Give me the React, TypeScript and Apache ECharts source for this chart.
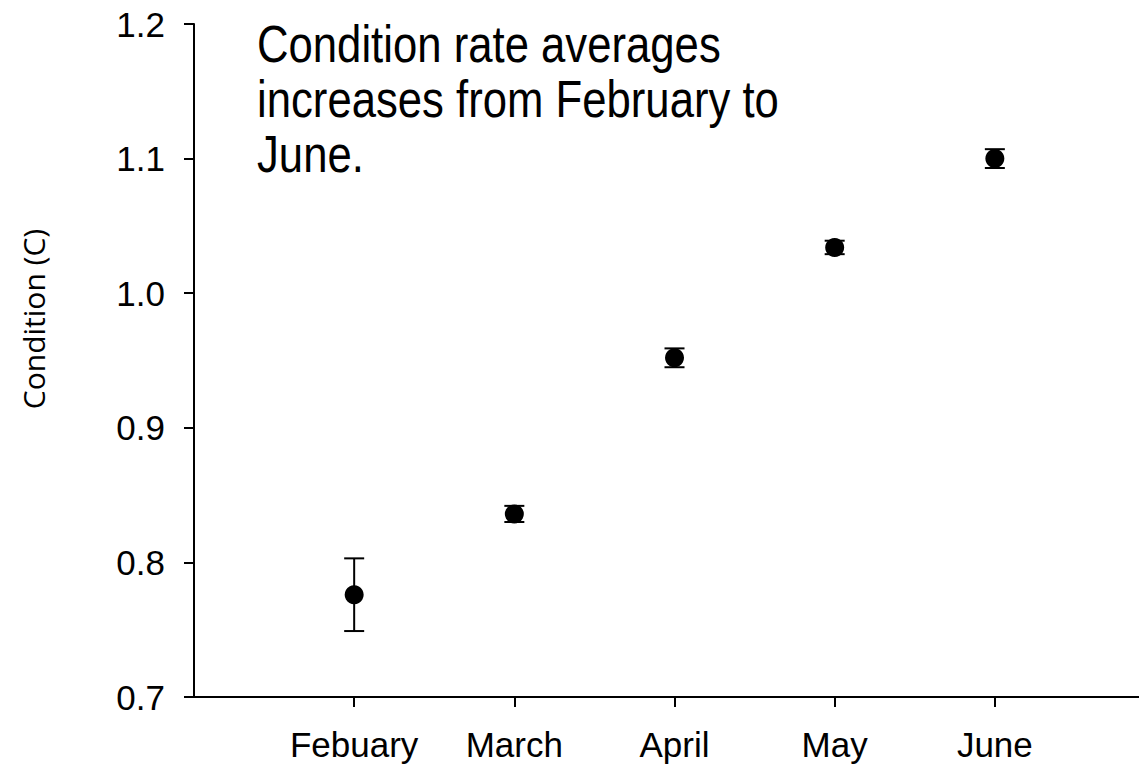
import React, { useEffect, useRef } from "react";
import * as echarts from "echarts";

const months = ["Febuary", "March", "April", "May", "June"];
const positions = [1, 2, 3, 4, 5];
const means = [0.776, 0.836, 0.952, 1.034, 1.1];
const errors = [0.027, 0.006, 0.007, 0.005, 0.007];
const yTicks = [0.7, 0.8, 0.9, 1.0, 1.1, 1.2];
const annotation = "Condition rate averages\nincreases from February to\nJune.";
const yTitle = "Condition (C)";

export default function App() {
  const ref = useRef<HTMLDivElement>(null);
  useEffect(() => {
    if (!ref.current) return;
    const chart = echarts.init(ref.current, undefined, { renderer: "svg" });
    const points = positions.map((p, i) => [p, means[i], errors[i]]);
    const font = '"Liberation Sans", Arial, sans-serif';
    chart.setOption({
      animation: false,
      backgroundColor: "#fff",
      grid: { left: 194, right: 0, top: 24, bottom: 69 },
      xAxis: {
        type: "value",
        min: 0,
        max: 5.9,
        interval: 1,
        splitLine: { show: false },
        axisLine: { show: true, lineStyle: { color: "#000", width: 2 } },
        axisTick: {
          show: true,
          length: 10,
          customValues: positions,
          lineStyle: { color: "#000", width: 2 },
        },
        axisLabel: {
          customValues: positions,
          margin: 30,
          color: "#000",
          fontSize: 35,
          fontFamily: font,
          formatter: (v: number) => months[Math.round(v) - 1] ?? "",
        },
      },
      yAxis: {
        type: "value",
        min: yTicks[0],
        max: yTicks[yTicks.length - 1],
        interval: 0.1,
        splitLine: { show: false },
        axisLine: { show: true, lineStyle: { color: "#000", width: 2 } },
        axisTick: { show: true, length: 10, lineStyle: { color: "#000", width: 2 } },
        axisLabel: {
          margin: 29,
          color: "#000",
          fontSize: 35,
          fontFamily: font,
          formatter: (v: number) => v.toFixed(1),
        },
      },
      graphic: [
        {
          type: "text",
          x: 257,
          y: 17,
          scaleX: 0.84,
          style: {
            text: annotation,
            font: '52px "Liberation Sans", Arial, sans-serif',
            lineHeight: 55,
            fill: "#000",
            align: "left",
            verticalAlign: "top",
          },
        },
        {
          type: "text",
          x: 33,
          y: 319,
          rotation: Math.PI / 2,
          style: {
            text: yTitle,
            font: '30px "Open Sans", sans-serif',
            fill: "#000",
            align: "center",
            verticalAlign: "middle",
          },
        },
      ],
      series: [
        {
          type: "custom",
          data: points,
          encode: { x: 0, y: 1 },
          renderItem: (params: any, api: any) => {
            const x = api.value(0);
            const y = api.value(1);
            const e = api.value(2);
            const top = api.coord([x, y + e]);
            const bot = api.coord([x, y - e]);
            const hw = 10;
            const st = { stroke: "#000", lineWidth: 2 };
            return {
              type: "group",
              children: [
                { type: "line", shape: { x1: top[0], y1: top[1], x2: bot[0], y2: bot[1] }, style: st },
                { type: "line", shape: { x1: top[0] - hw, y1: top[1], x2: top[0] + hw, y2: top[1] }, style: st },
                { type: "line", shape: { x1: bot[0] - hw, y1: bot[1], x2: bot[0] + hw, y2: bot[1] }, style: st },
              ],
            };
          },
          z: 2,
        },
        {
          type: "scatter",
          data: points.map((p) => [p[0], p[1]]),
          symbol: "circle",
          symbolSize: 19,
          itemStyle: { color: "#000", opacity: 1 },
          z: 3,
        },
      ],
    });
    return () => chart.dispose();
  }, []);
  return (
    <div
      ref={ref}
      style={{ position: "absolute", left: 0, top: 0, width: 1139, height: 766 }}
    />
  );
}
